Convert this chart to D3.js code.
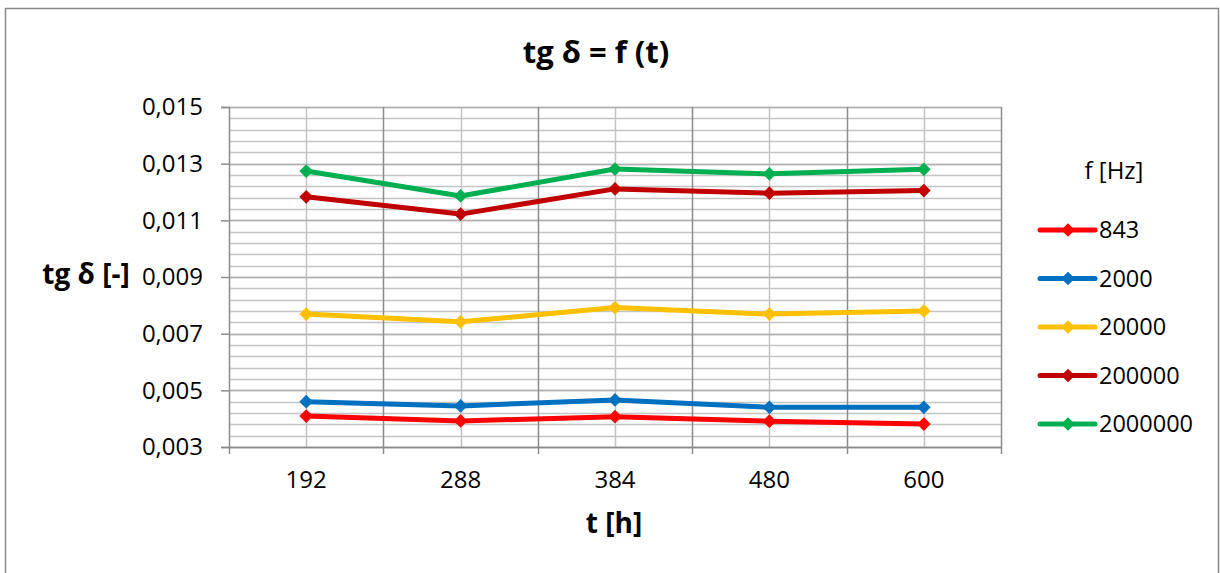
<!DOCTYPE html>
<html><head><meta charset="utf-8">
<script src="https://cdn.jsdelivr.net/npm/d3@7"></script>
<style>body{margin:0;background:#fff}svg{display:block}text{font-family:"Open Sans",sans-serif;fill:#000}</style>
</head><body><svg id="c" width="1220" height="573"></svg>
<script>
const categories = ["192","288","384","480","600"];
const seriesNames = ["843","2000","20000","200000","2000000"];
const s843 = [0.00409,0.00392,0.00407,0.00391,0.00381];
const s2000 = [0.00460,0.00445,0.00466,0.00440,0.00440];
const s20000 = [0.00769,0.00742,0.00792,0.00769,0.00780];
const s200000 = [0.01183,0.01122,0.01211,0.01196,0.01205];
const s2000000 = [0.01274,0.01186,0.01281,0.01264,0.01280];
const seriesColors = ["#FF0000","#0070C0","#FFC000","#C00000","#00B050"];
const yTicks = [0.003,0.005,0.007,0.009,0.011,0.013,0.015];
const title = "tg δ = f (t)", xTitle = "t [h]", yTitle = "tg δ [-]", legendTitle = "f [Hz]";

const data = [s843,s2000,s20000,s200000,s2000000];
const svg = d3.select("#c");
const L=229,R=1001,T=107,B=447;
const x = d3.scaleBand().domain(categories).range([L,R]);
const y = d3.scaleLinear().domain([0.003,0.015]).range([B,T]);
const FS = 24;

svg.append("rect").attr("x",5.5).attr("y",8.5).attr("width",1213).attr("height",580)
  .attr("fill","#fff").attr("stroke","#8a8a8a").attr("stroke-width",1.5);

// minor horizontal grid
const minor = d3.range(0,31).map(i=>0.003+i*0.0004);
svg.append("g").selectAll("line").data(minor).join("line")
  .attr("x1",L).attr("x2",R).attr("y1",d=>Math.round(y(d))+0.5).attr("y2",d=>Math.round(y(d))+0.5)
  .attr("stroke","#c4c4c4").attr("stroke-width",1.5);
// minor vertical at category centers
svg.append("g").selectAll("line").data(categories).join("line")
  .attr("x1",d=>Math.round(x(d)+x.bandwidth()/2)+0.5).attr("x2",d=>Math.round(x(d)+x.bandwidth()/2)+0.5)
  .attr("y1",T).attr("y2",B).attr("stroke","#c4c4c4").attr("stroke-width",1.5);
// major horizontal
svg.append("g").selectAll("line").data(yTicks).join("line")
  .attr("x1",L).attr("x2",R).attr("y1",d=>Math.round(y(d))+0.5).attr("y2",d=>Math.round(y(d))+0.5)
  .attr("stroke","#b0b0b0").attr("stroke-width",1.5);
// major vertical at boundaries
const bounds = categories.map(c=>x(c)).concat([R]);
svg.append("g").selectAll("line").data(bounds.slice(1)).join("line")
  .attr("x1",d=>Math.round(d)+0.5).attr("x2",d=>Math.round(d)+0.5)
  .attr("y1",T).attr("y2",B).attr("stroke","#8c8c8c").attr("stroke-width",1.5);

// y axis
const ya = svg.append("g").attr("transform",`translate(${L},0)`)
  .call(d3.axisLeft(y).tickValues(yTicks).tickSize(8).tickPadding(18).tickFormat(d=>d3.format(".3f")(d).replace(".",",")));
ya.select(".domain").attr("stroke","#8c8c8c").attr("stroke-width",1.5);
ya.selectAll(".tick line").attr("stroke","#8c8c8c").attr("stroke-width",1.5);
ya.selectAll("text").attr("font-size",FS).attr("font-family","'Open Sans',sans-serif").attr("fill","#000");

// x axis
const xa = svg.append("g").attr("transform",`translate(0,${B})`)
  .call(d3.axisBottom(x).tickSize(0).tickPadding(24));
xa.select(".domain").attr("stroke","#8c8c8c").attr("stroke-width",1.5);
xa.selectAll("text").attr("font-size",FS).attr("font-family","'Open Sans',sans-serif").attr("fill","#000");
svg.append("g").selectAll("line").data(bounds).join("line")
  .attr("x1",d=>Math.round(d)+0.5).attr("x2",d=>Math.round(d)+0.5)
  .attr("y1",B).attr("y2",B+7).attr("stroke","#8c8c8c").attr("stroke-width",1.5);

const diamond = d3.symbol().type(d3.symbolDiamond2).size(120);
const line = d3.line().x((d,i)=>x(categories[i])+x.bandwidth()/2).y(d=>y(d));
data.forEach((s,k)=>{
  svg.append("path").datum(s).attr("d",line).attr("fill","none")
    .attr("stroke",seriesColors[k]).attr("stroke-width",5).attr("stroke-linejoin","round");
  svg.append("g").selectAll("path").data(s).join("path")
    .attr("transform",(d,i)=>`translate(${x(categories[i])+x.bandwidth()/2},${y(d)})`)
    .attr("d",diamond).attr("fill",seriesColors[k]);
});

// titles
svg.append("text").attr("x",596).attr("y",63).attr("text-anchor","middle")
  .attr("font-size",31).attr("font-weight","bold").text(title);
svg.append("text").attr("x",614).attr("y",533).attr("text-anchor","middle")
  .attr("font-size",28).attr("font-weight","bold").text(xTitle);
svg.append("text").attr("x",86).attr("y",284).attr("text-anchor","middle")
  .attr("font-size",28).attr("font-weight","bold").text(yTitle);

// legend
svg.append("text").attr("x",1114).attr("y",179).attr("text-anchor","middle")
  .attr("font-size",FS).text(legendTitle);
const lg = svg.append("g").selectAll("g").data(seriesNames).join("g")
  .attr("transform",(d,i)=>`translate(1040,${230+i*48.5})`);
lg.append("line").attr("x1",0).attr("x2",55).attr("stroke",(d,i)=>seriesColors[i]).attr("stroke-width",5).attr("stroke-linecap","round");
lg.append("path").attr("transform","translate(28,0)").attr("d",diamond).attr("fill",(d,i)=>seriesColors[i]);
lg.append("text").attr("x",59).attr("y",8).attr("font-size",23.5).text(d=>d);
</script></body></html>
